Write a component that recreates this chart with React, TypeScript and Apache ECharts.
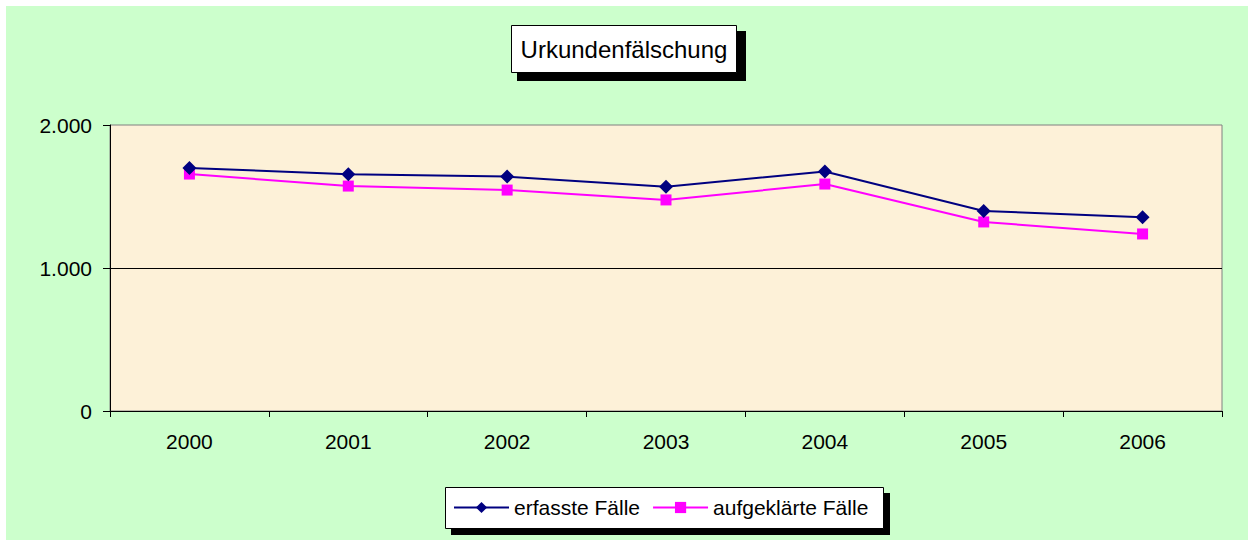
import React, { useEffect, useRef } from "react";
import * as echarts from "echarts";

const categories = ["2000", "2001", "2002", "2003", "2004", "2005", "2006"];
const erfassteFaelle = [1700, 1655, 1639, 1568, 1675, 1399, 1355];
const aufgeklaerteFaelle = [1657, 1573, 1545, 1476, 1587, 1322, 1238];
const yTicks = [0, 1000, 2000];
const yTickLabels = ["0", "1.000", "2.000"];
const titleText = "Urkundenfälschung";
const seriesNames = ["erfasste Fälle", "aufgeklärte Fälle"];

const FONT = "'Liberation Sans', Arial, sans-serif";

export default function App() {
  const ref = useRef<HTMLDivElement>(null);
  useEffect(() => {
    if (!ref.current) return;
    const chart = echarts.init(ref.current, undefined, { renderer: "svg" });
    chart.setOption({
      animation: false,
      backgroundColor: "#CCFFCC",
      title: {
        text: titleText,
        left: "center",
        top: 25,
        padding: [12, 9],
        backgroundColor: "#FFFFFF",
        borderColor: "#000000",
        borderWidth: 1,
        z: 10,
        textStyle: {
          fontFamily: FONT,
          fontSize: 24,
          fontWeight: "normal",
          color: "#000000",
        },
      },
      legend: {
        data: seriesNames,
        left: 453,
        top: 497,
        padding: 0,
        itemGap: 12,
        itemWidth: 55,
        itemHeight: 14,
        z: 10,
        textStyle: { fontFamily: FONT, fontSize: 21, color: "#000000" },
      },
      graphic: [
        { type: "rect", z: 1, shape: { x: 0, y: 0, width: 1248, height: 6 }, style: { fill: "#FFFFFF" } },
        { type: "rect", z: 1, shape: { x: 0, y: 0, width: 6, height: 540 }, style: { fill: "#FFFFFF" } },
        { type: "rect", z: 1, shape: { x: 517, y: 31, width: 229, height: 50 }, style: { fill: "#000000" } },
        { type: "rect", z: 1, shape: { x: 451, y: 493, width: 439, height: 42 }, style: { fill: "#000000" } },
        { type: "rect", z: 2, shape: { x: 445.5, y: 487.5, width: 438, height: 41 }, style: { fill: "#FFFFFF", stroke: "#000000", lineWidth: 1 } },
      ],
      grid: {
        left: 110,
        top: 125,
        right: 26,
        bottom: 129,
        show: true,
        backgroundColor: "#FDF1D8",
        borderColor: "#808080",
        borderWidth: 1,
        containLabel: false,
      },
      xAxis: {
        type: "category",
        data: categories,
        boundaryGap: true,
        axisLine: { show: true, lineStyle: { color: "#000000", width: 1 } },
        axisTick: { show: true, interval: 0, length: 6, lineStyle: { color: "#000000" } },
        axisLabel: { fontFamily: FONT, fontSize: 21, color: "#000000", margin: 20, interval: 0 },
        splitLine: { show: false },
      },
      yAxis: {
        type: "value",
        min: yTicks[0],
        max: yTicks[yTicks.length - 1],
        interval: yTicks[1] - yTicks[0],
        axisLine: { show: true, lineStyle: { color: "#000000", width: 1 } },
        axisTick: { show: true, length: 7, lineStyle: { color: "#000000" } },
        axisLabel: {
          fontFamily: FONT,
          fontSize: 21,
          color: "#000000",
          margin: 18,
          formatter: (v: number) => {
            const i = yTicks.indexOf(v);
            return i >= 0 ? yTickLabels[i] : String(v);
          },
        },
        splitLine: { show: false },
      },
      series: [
        {
          name: seriesNames[0],
          type: "line",
          data: erfassteFaelle,
          symbol: "diamond",
          symbolSize: 14,
          lineStyle: { color: "#000080", width: 2 },
          itemStyle: { color: "#000080" },
          z: 3,
          markLine: {
            silent: true,
            symbol: ["none", "none"],
            label: { show: false },
            lineStyle: { color: "#000000", width: 1, type: "solid" },
            data: [{ yAxis: yTicks[1] }],
          },
        },
        {
          name: seriesNames[1],
          type: "line",
          data: aufgeklaerteFaelle,
          symbol: "rect",
          symbolSize: 11,
          lineStyle: { color: "#FF00FF", width: 2 },
          itemStyle: { color: "#FF00FF" },
          z: 2,
        },
      ],
    });
    return () => chart.dispose();
  }, []);
  return (
    <div style={{ position: "absolute", left: 0, top: 0, width: 1248, height: 540 }}>
      <div ref={ref} style={{ width: 1248, height: 540 }} />
    </div>
  );
}
